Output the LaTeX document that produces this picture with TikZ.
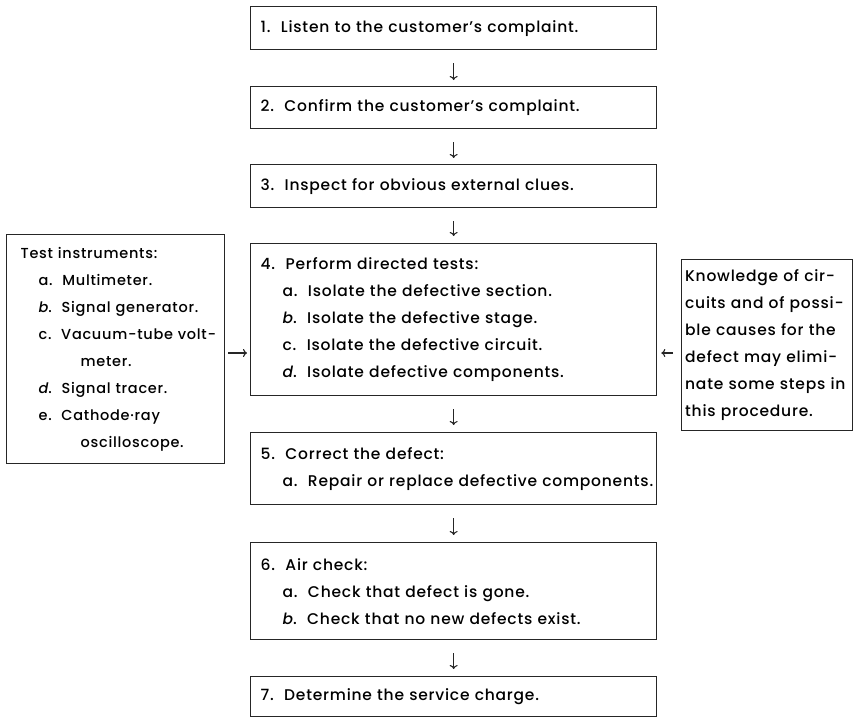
\documentclass[tikz,border=0pt]{standalone}
\usepackage{fontspec}
\IfFontExistsTF{Poppins Medium}{%
  \setmainfont{Poppins Medium}[LetterSpace=5,ItalicFont={Poppins Medium Italic}]%
}{%
  \setmainfont{Poppins}[LetterSpace=3,UprightFont={* Bold},ItalicFont={* Bold Italic}]%
}
\usetikzlibrary{arrows.meta}
\begin{document}
\begin{tikzpicture}[x=1pt,y=-1pt,
  box/.style={draw=black!85, line width=1.3pt, rectangle, anchor=north west,
    inner xsep=10pt, inner ysep=0pt, align=left,
    font=\fontsize{15.5}{27}\selectfont, text=black},
  stepbox/.style={box, text width=386pt, minimum width=406pt},
  arr/.style={-{To[length=4pt,width=8pt]}, line width=1.1pt, black!85}
]
\useasboundingbox (0,0) rectangle (853,718);
\fill[white] (0,0) rectangle (853,718);

\node[stepbox, minimum height=43pt] (b1) at (250,6) {\mbox{1.\ \ Listen to the customer's complaint.}};
\node[stepbox, minimum height=42pt] (b2) at (250,86) {\mbox{2.\ \ Confirm the customer's complaint.}};
\node[stepbox, minimum height=43pt] (b3) at (250,164) {\mbox{3.\ \ Inspect for obvious external clues.}};
\node[stepbox, minimum height=152pt] (b4) at (250,243) {\mbox{4.\ \ Perform directed tests:}\\
\hspace*{22pt}\mbox{a.\ \ Isolate the defective section.}\\
\hspace*{22pt}\mbox{\textit{b}.\ \ Isolate the defective stage.}\\
\hspace*{22pt}\mbox{c.\ \ Isolate the defective circuit.}\\
\hspace*{22pt}\mbox{\textit{d}.\ \ Isolate defective components.}};
\node[stepbox, minimum height=72pt] (b5) at (250,432) {\mbox{5.\ \ Correct the defect:}\\
\hspace*{22pt}\mbox{a.\ \ Repair or replace defective components.}};
\node[stepbox, minimum height=97pt] (b6) at (250,542) {\mbox{6.\ \ Air check:}\\
\hspace*{22pt}\mbox{a.\ \ Check that defect is gone.}\\
\hspace*{22pt}\mbox{\textit{b}.\ \ Check that no new defects exist.}};
\node[stepbox, minimum height=40pt] (b7) at (250,676) {\mbox{7.\ \ Determine the service charge.}};

\node[box, font=\fontsize{14.5}{27}\selectfont, inner xsep=14pt, text width=190pt, minimum width=218pt, minimum height=229pt] (inst) at (6,234) {\mbox{Test instruments:}\\
\hspace*{18pt}\mbox{a.\ \ Multimeter.}\\
\hspace*{18pt}\mbox{\textit{b}.\ \ Signal generator.}\\
\hspace*{18pt}\mbox{c.\ \ Vacuum-tube volt-}\\
\hspace*{60pt}\mbox{meter.}\\
\hspace*{18pt}\mbox{\textit{d}.\ \ Signal tracer.}\\
\hspace*{18pt}\mbox{e.\ \ Cathode·ray}\\
\hspace*{60pt}\mbox{oscilloscope.}};

\node[box, inner xsep=3pt, text width=164pt, minimum width=171pt, minimum height=171pt] (know) at (681,259) {\makebox[164pt][s]{Knowledge of cir-}\\
\makebox[164pt][s]{cuits and of possi-}\\
\makebox[164pt][s]{ble causes for the}\\
\makebox[164pt][s]{defect may elimi-}\\
\makebox[164pt][s]{nate some steps in}\\
\mbox{this procedure.}};

\draw[arr, shorten <=13pt, shorten >=6pt] (b1.south) -- (b2.north);
\draw[arr, shorten <=13pt, shorten >=6pt] (b2.south) -- (b3.north);
\draw[arr, shorten <=13pt, shorten >=7pt] (b3.south) -- (b4.north);
\draw[arr, shorten <=13pt, shorten >=7pt] (b4.south) -- (b5.north);
\draw[arr, shorten <=13pt, shorten >=7pt] (b5.south) -- (b6.north);
\draw[arr, shorten <=13pt, shorten >=7pt] (b6.south) -- (b7.north);

\coordinate (ya) at (0,353);
\draw[arr, shorten <=3pt, shorten >=3pt] (inst.east |- ya) -- (b4.west |- ya);
\draw[arr, shorten <=8pt, shorten >=4pt] (know.west |- ya) -- (b4.east |- ya);
\end{tikzpicture}
\end{document}
